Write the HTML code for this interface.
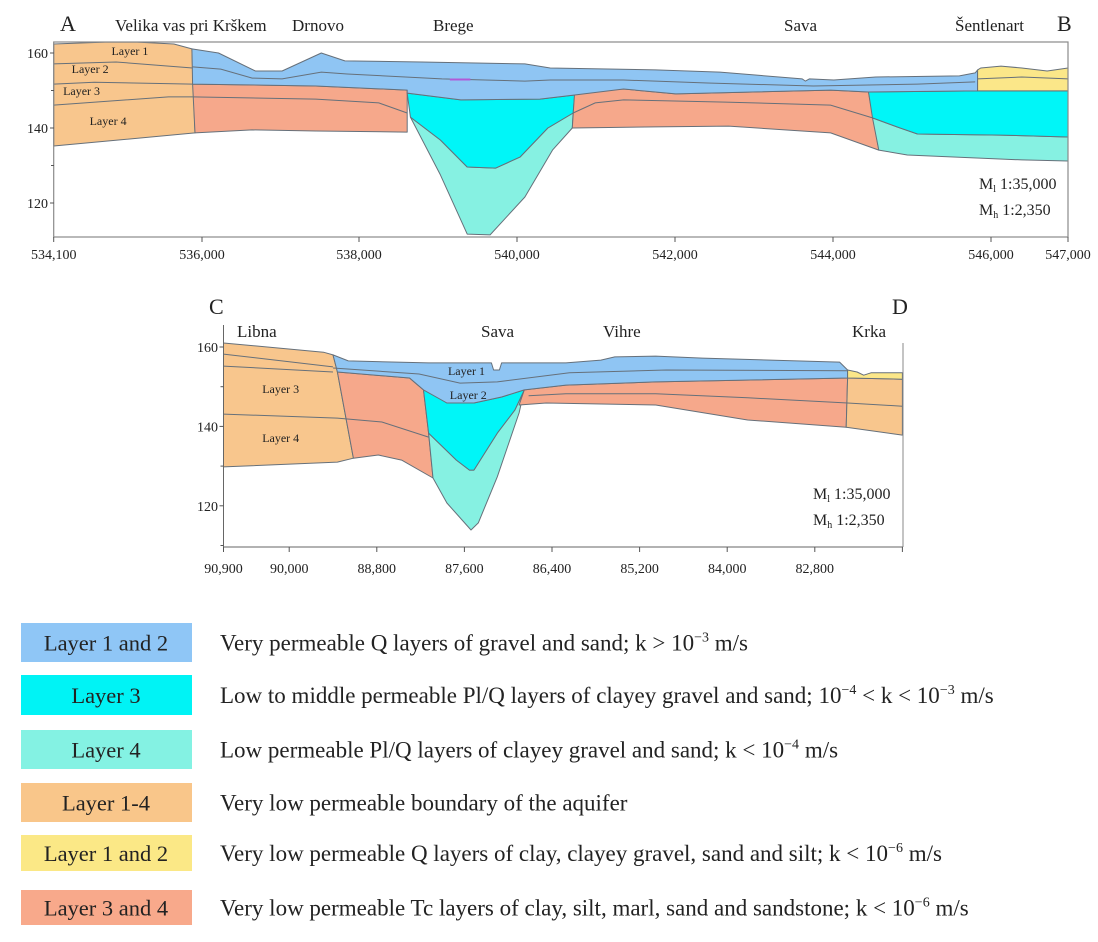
<!DOCTYPE html>
<html><head><meta charset="utf-8">
<style>
html,body{margin:0;padding:0;background:#fff;}
svg{display:block;font-family:"Liberation Serif",serif;}
</style></head>
<body>
<svg id="fig" width="1098" height="942" viewBox="0 0 1098 942">
<g id="gA"></g>
<g id="gC"></g>
<g id="legend"></g>
</svg>
<script>
// ===== Section A-B data =====
const aTickVals = [534100,536000,538000,540000,542000,544000,546000,547000];
const aTickLabels = ["534,100","536,000","538,000","540,000","542,000","544,000","546,000","547,000"];
const aYTicks = [160,140,120];
const aYMinor = [150,130];
const aOrange = [[534100,162.4],[534760,162.9],[535170,162.9],[535640,162.4],[535870,161.1],[535910,138.7],[534100,135.2]];
const aRed1 = [[535880,151.7],[537450,151.2],[538610,150.1],[538610,138.9],[537450,139.2],[536640,139.5],[535910,138.7]];
const aCyan1 = [[538610,149.3],[539290,147.5],[540290,147.7],[540730,148.8],[540710,144],[540390,140],[540040,132.3],[539730,129.3],[539370,129.6],[539030,136.8],[538650,142.9]];
const aTeal1 = [[538650,142.9],[539030,136.8],[539370,129.6],[539730,129.3],[540040,132.3],[540390,140],[540710,144],[540700,140],[540450,134.1],[540100,121.6],[539660,111.5],[539370,111.7],[539030,127.5]];
const aRed2 = [[540730,149.9],[541350,150.4],[542010,149.1],[543970,150.1],[544450,149.6],[544580,134.1],[543970,138.7],[542680,140.5],[541750,140.3],[540700,140]];
const aCyan2 = [[544450,149.6],[545830,149.9],[547000,149.9],[547000,137.6],[546130,138.1],[545070,138.4],[544810,140.3],[544500,142.7]];
const aTeal2 = [[544500,142.7],[544810,140.3],[545070,138.4],[546130,138.1],[547000,137.6],[547000,131.2],[546400,131.5],[544940,132.8],[544580,134.1]];
const aBlue = [[535870,161.1],[536210,160],[536680,155.2],[537020,155.2],[537520,160],[537820,157.9],[538790,157.6],[540100,157.1],[540420,156],[541750,155.5],[542570,154.9],[543610,153.1],[543650,152.5],[543700,153.1],[544010,152.8],[544540,153.6],[545600,153.9],[545800,154.7],[545830,155.5],[545830,149.9],[544450,149.6],[543970,150.1],[542010,149.1],[541350,150.4],[540730,148.8],[540290,147.7],[539290,147.5],[538610,149.3],[538610,150.1],[537450,151.2],[535880,151.7]];
const aYellow = [[545830,155.5],[545870,156],[546130,156.5],[546400,156],[546730,155.2],[547000,156],[547000,149.9],[545830,149.9]];
const aLines = [
 [[534100,157.1],[534900,157.6],[535880,156]],
 [[534100,151.7],[534620,152.2],[535880,151.7]],
 [[534100,146.1],[535570,148.3],[535880,148.3]],
 [[535880,156.3],[536240,155.7],[536640,153.3],[537020,153.1],[537520,154.9],[537850,154.4],[539050,153.1],[540100,152.5],[540420,152.8],[541350,152.8],[542410,152],[543750,151.2],[545070,151.7],[545800,152.3]],
 [[535880,148.3],[537450,147.7],[538250,146.7],[538610,144]],
 [[540710,144],[540990,146.7],[541350,147.5],[542640,146.9],[543970,146.1],[544500,142.7]],
 [[545830,153.1],[546400,153.6],[547000,153.1]]
];
const aLabels = [["Layer 1",534840,159.5],["Layer 2",534330,154.7],["Layer 3",534220,148.8],["Layer 4",534560,140.8]];
const aPlaces = [["A",60,31,22],["Velika vas pri Krškem",115,31,17],["Drnovo",292,31,17],["Brege",433,31,17],["Sava",784,31,17],["Šentlenart",955,31,17],["B",1057,31,22]];

// ===== Section C-D data =====
const cTickVals = [90900,90000,88800,87600,86400,85200,84000,82800,81600];
const cTickLabels = ["90,900","90,000","88,800","87,600","86,400","85,200","84,000","82,800",""];
const cYTicks = [160,140,120];
const cYMinor = [150,130,110];
const cOrangeL = [[90900,161],[89530,158.7],[89400,158],[89340,153.7],[89120,132],[89340,131],[90900,129.8]];
const cRedL = [[89340,153.7],[88350,152.2],[88160,149.2],[88090,138.3],[88030,127],[88460,131.5],[88780,132.8],[89120,132]];
const cCyan = [[88350,152.2],[87840,145.9],[87470,145.9],[87090,147.4],[86780,149.2],[86910,144.1],[87150,138.3],[87470,129],[87530,129],[87710,131.5],[88090,138.3],[88160,149.2]];
const cTeal = [[88090,138.3],[87710,131.5],[87530,129],[87470,129],[87150,138.3],[86910,144.1],[86780,149.2],[86850,143.4],[87150,127.3],[87410,115.7],[87510,113.9],[87840,120.7],[88030,127]];
const cRedR = [[86780,149.2],[86210,150.4],[84980,151.2],[82350,152.2],[82370,139.8],[83720,141.6],[84980,145.4],[86480,145.9],[86850,145.4]];
const cOrangeR = [[82350,152.2],[81600,151.9],[81600,137.8],[82370,139.8]];
const cYellow = [[82350,154.2],[82220,153.7],[82130,152.9],[82030,153.5],[81600,153.5],[81600,151.9],[82350,152.2]];
const cBlue = [[89400,158],[89190,156.5],[88090,156],[87230,156],[87200,154.2],[87120,154.2],[87090,156],[86210,156],[85730,156.7],[85540,157.5],[84980,157.7],[84340,157.2],[82460,156.2],[82350,154.2],[82350,152.2],[84980,151.2],[86210,150.4],[86780,149.2],[87090,147.4],[87470,145.9],[87840,145.9],[88160,149.2],[88350,152.2],[89340,153.7]];
const cLines = [
 [[90900,158.2],[89400,155]],
 [[90900,155.2],[89400,153.7]],
 [[90900,143.1],[89340,142.1],[88730,141.1],[88090,137.3]],
 [[89400,154.7],[88220,153.2],[87660,150.9],[87150,151.2],[86160,153.5],[84840,154.2],[82350,154]],
 [[86720,147.7],[86210,148.2],[84980,148.2],[83720,147.2],[82350,145.9],[81600,145.1]]
];
const cLabels = [["Layer 1",87825,152.9],["Layer 2",87800,146.9],["Layer 3",90370,148.4],["Layer 4",90370,136.1]];
const cPlaces = [["C",209,314,22],["Libna",237,337,17],["Sava",481,337,17],["Vihre",603,337,17],["Krka",852,337,17],["D",892,314,22]];

const legendLabels = ["Layer 1 and 2","Layer 3","Layer 4","Layer 1-4","Layer 1 and 2","Layer 3 and 4"];
const legendColors = ["#8fc6f6","#00f3f5","#84f2e3","#f9c68a","#fbe886","#f8a98b"];
const legendTexts = [
 ["Very permeable Q layers of gravel and sand; k > 10","−3"," m/s"],
 ["Low to middle permeable Pl/Q layers of clayey gravel and sand; 10","−4"," < k < 10","−3"," m/s"],
 ["Low permeable Pl/Q layers of clayey gravel and sand; k < 10","−4"," m/s"],
 ["Very low permeable boundary of the aquifer"],
 ["Very low permeable Q layers of clay, clayey gravel, sand and silt; k < 10","−6"," m/s"],
 ["Very low permeable Tc layers of clay, silt, marl, sand and sandstone; k < 10","−6"," m/s"]
];

const NS="http://www.w3.org/2000/svg";
function mk(tag,attrs,parent){const e=document.createElementNS(NS,tag);for(const k in attrs)e.setAttribute(k,attrs[k]);parent.appendChild(e);return e;}
function pw(vals,pix){return v=>{for(let i=0;i<vals.length-1;i++){const a=vals[i],b=vals[i+1];const lo=Math.min(a,b),hi=Math.max(a,b);if(v>=lo&&v<=hi||i===vals.length-2){return pix[i]+(v-a)/(b-a)*(pix[i+1]-pix[i]);}}return pix[0];};}

// axis functions
const axA = pw([534100,536000,538000,540000,542000,544000,546000,547000],[53.7,202,359,517,675,833,991,1068]);
const ayA = v=>53+(160-v)*3.75;
const axC = v=>223.5+(90900-v)*0.0730;
const ayC = v=>347+(160-v)*3.97;

const COL={blue:"#8fc5f3",cyan:"#00f6f8",teal:"#86f1e2",orange:"#f8c68d",red:"#f6a88b",yellow:"#fbe789"};
function poly(g,pts,fx,fy,fill,name){
  const p=mk('polygon',{points:pts.map(q=>fx(q[0]).toFixed(1)+','+fy(q[1]).toFixed(1)).join(' '),fill:fill,stroke:"#66707a","stroke-width":1,"stroke-linejoin":"round"},g);
  
  
}
function line(g,pts,fx,fy,name){
  const p=mk('polyline',{points:pts.map(q=>fx(q[0]).toFixed(1)+','+fy(q[1]).toFixed(1)).join(' '),fill:"none",stroke:"#66707a","stroke-width":1},g);
  
  
}
function txt(g,s,x,y,size,anchor,name){
  const t=mk('text',{x:x,y:y,"font-size":size,fill:"#222","text-anchor":anchor||"start"},g);
  t.textContent=s;
  
  
  return t;
}

// ---- Section A ----
const gA=document.getElementById('gA');
poly(gA,aOrange,axA,ayA,COL.orange,'boundary-layer-left');
poly(gA,aRed1,axA,ayA,COL.red,'tc-layer-left');
poly(gA,aTeal1,axA,ayA,COL.teal,'layer4-channel');
poly(gA,aCyan1,axA,ayA,COL.cyan,'layer3-channel');
poly(gA,aRed2,axA,ayA,COL.red,'tc-layer-middle');
poly(gA,aTeal2,axA,ayA,COL.teal,'layer4-right');
poly(gA,aCyan2,axA,ayA,COL.cyan,'layer3-right');
poly(gA,aBlue,axA,ayA,COL.blue,'layer1-2-gravel');
poly(gA,aYellow,axA,ayA,COL.yellow,'layer1-2-clay');
aLines.forEach(l=>line(gA,l,axA,ayA,'layer-boundary-line'));
mk('rect',{x:axA(539150),y:ayA(153.2),width:axA(539410)-axA(539150),height:2,fill:"#b05ad8"},gA);
aLabels.forEach(l=>txt(gA,l[0],axA(l[1]),ayA(l[2]),12,"start",'layer-label'));
const fA=mk('rect',{x:53.7,y:42,width:1014.3,height:195,fill:"none",stroke:"#8a8a8a","stroke-width":1.2},gA);


aTickVals.forEach((v,i)=>{
  mk('line',{x1:axA(v),x2:axA(v),y1:237,y2:242,stroke:"#555"},gA);
  txt(gA,aTickLabels[i],axA(v),259,14,"middle",'x-tick-label');
});
aYTicks.forEach(v=>{
  mk('line',{x1:50,x2:54,y1:ayA(v),y2:ayA(v),stroke:"#555"},gA);
  txt(gA,String(v),48,ayA(v)+5,14,"end",'y-tick-label');
});
aYMinor.forEach(v=>{mk('line',{x1:51,x2:54,y1:ayA(v),y2:ayA(v),stroke:"#555"},gA);});
aPlaces.forEach(p=>txt(gA,p[0],p[1],p[2],p[3],"start",'place-label'));
let t=txt(gA,"M",979,189,16,"start",'scale-length');t.innerHTML='M<tspan font-size="10" dy="3">l</tspan><tspan dy="-3"> 1:35,000</tspan>';
t=txt(gA,"M",979,215,16,"start",'scale-height');t.innerHTML='M<tspan font-size="10" dy="3">h</tspan><tspan dy="-3"> 1:2,350</tspan>';

// ---- Section C ----
const gC=document.getElementById('gC');
poly(gC,cOrangeL,axC,ayC,COL.orange,'boundary-layer-left');
poly(gC,cRedL,axC,ayC,COL.red,'tc-layer-left');
poly(gC,cTeal,axC,ayC,COL.teal,'layer4-channel');
poly(gC,cCyan,axC,ayC,COL.cyan,'layer3-channel');
poly(gC,cRedR,axC,ayC,COL.red,'tc-layer-right');
poly(gC,cOrangeR,axC,ayC,COL.orange,'boundary-layer-right');
poly(gC,cBlue,axC,ayC,COL.blue,'layer1-2-gravel');
poly(gC,cYellow,axC,ayC,COL.yellow,'layer1-2-clay');
cLines.forEach(l=>line(gC,l,axC,ayC,'layer-boundary-line'));
cLabels.forEach(l=>txt(gC,l[0],axC(l[1]),ayC(l[2]),12,"start",'layer-label'));
mk('line',{x1:223.5,x2:223.5,y1:325,y2:547,stroke:"#666"},gC);
mk('line',{x1:903,x2:903,y1:343,y2:547,stroke:"#888"},gC);
mk('line',{x1:223.5,x2:903,y1:547,y2:547,stroke:"#666"},gC);
cTickVals.forEach((v,i)=>{
  mk('line',{x1:axC(v),x2:axC(v),y1:547,y2:552,stroke:"#555"},gC);
  if(cTickLabels[i])txt(gC,cTickLabels[i],axC(v),573,14,"middle",'x-tick-label');
});
cYTicks.forEach(v=>{
  mk('line',{x1:219.5,x2:223.5,y1:ayC(v),y2:ayC(v),stroke:"#555"},gC);
  txt(gC,String(v),218,ayC(v)+5,14,"end",'y-tick-label');
});
cYMinor.forEach(v=>{mk('line',{x1:220.5,x2:223.5,y1:ayC(v),y2:ayC(v),stroke:"#555"},gC);});
cPlaces.forEach(p=>txt(gC,p[0],p[1],p[2],p[3],"start",'place-label'));
t=txt(gC,"M",813,499,16,"start",'scale-length');t.innerHTML='M<tspan font-size="10" dy="3">l</tspan><tspan dy="-3"> 1:35,000</tspan>';
t=txt(gC,"M",813,525,16,"start",'scale-height');t.innerHTML='M<tspan font-size="10" dy="3">h</tspan><tspan dy="-3"> 1:2,350</tspan>';

// ---- Legend ----
const gL=document.getElementById('legend');
const ly=[623,675,730,783,835,890], lh=[39,40,39,39,36,35];
legendLabels.forEach((s,i)=>{
  const r=mk('rect',{x:21,y:ly[i],width:171,height:lh[i],fill:legendColors[i]},gL);
  
  
  txt(gL,s,106,ly[i]+lh[i]/2+8,22.5,"middle",'legend-swatch-label');
  const parts=legendTexts[i];
  const tt=txt(gL,"",220,ly[i]+lh[i]/2+8,23,"start",'legend-description');
  parts.forEach((p,j)=>{
    const sp=document.createElementNS(NS,'tspan');
    sp.textContent=p;
    if(j%2===1){sp.setAttribute('font-size','14');sp.setAttribute('dy','-9');}
    else if(j>0){sp.setAttribute('dy','9');}
    tt.appendChild(sp);
  });
});
</script>
</body></html>
